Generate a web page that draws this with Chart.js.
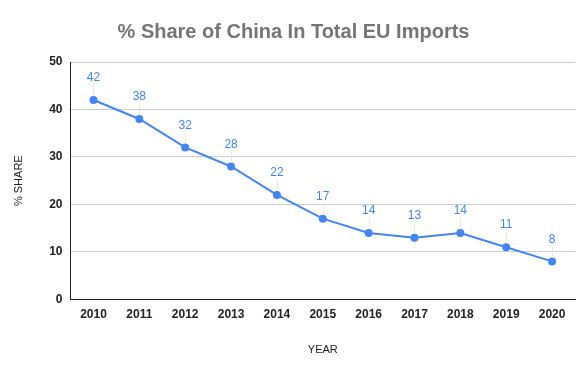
<!DOCTYPE html>
<html>
<head>
<meta charset="utf-8">
<script src="https://cdn.jsdelivr.net/npm/chart.js@4.4.1/dist/chart.umd.min.js"></script>
<style>
  html, body { margin: 0; padding: 0; background: #fff; }
  #wrap { width: 585px; height: 371px; position: relative; }
</style>
</head>
<body>
<div id="wrap"><canvas id="c"></canvas></div>
<script>
const years = ['2010', '2011', '2012', '2013', '2014', '2015', '2016', '2017', '2018', '2019', '2020'];
const share = [42, 38, 32, 28, 22, 17, 14, 13, 14, 11, 8];
const yTicks = [0, 10, 20, 30, 40, 50];

const BLUE = '#4285F4';
const FONT = 'Arial, "Liberation Sans", sans-serif';

// labels above points with thin leader lines
const pointLabels = {
  id: 'pointLabels',
  afterDatasetsDraw(chart) {
    const ctx = chart.ctx;
    const meta = chart.getDatasetMeta(0);
    ctx.save();
    ctx.font = '12px ' + FONT;
    ctx.textAlign = 'center';
    ctx.textBaseline = 'middle';
    meta.data.forEach((pt, i) => {
      ctx.strokeStyle = '#e6e6e6';
      ctx.lineWidth = 1;
      ctx.beginPath();
      ctx.moveTo(Math.round(pt.x) + 0.5, pt.y - 4);
      ctx.lineTo(Math.round(pt.x) + 0.5, pt.y - 15);
      ctx.stroke();
      ctx.fillStyle = BLUE;
      ctx.fillText(String(share[i]), pt.x, pt.y - 22);
    });
    ctx.restore();
  }
};

new Chart(document.getElementById('c'), {
  type: 'line',
  data: {
    labels: years,
    datasets: [{
      data: share,
      borderColor: BLUE,
      backgroundColor: BLUE,
      borderWidth: 2,
      pointRadius: 3,
      pointHoverRadius: 3,
      tension: 0
    }]
  },
  options: {
    responsive: true,
    maintainAspectRatio: false,
    animation: false,
    layout: { padding: { left: 12, right: 10, top: 8, bottom: 14 } },
    plugins: {
      legend: { display: false },
      tooltip: { enabled: false },
      title: {
        display: true,
        text: '% Share of China In Total EU Imports',
        color: '#757575',
        font: { family: FONT, size: 20, weight: 'bold' },
        padding: { top: 12, bottom: 18 }
      }
    },
    scales: {
      x: {
        offset: true,
        grid: { display: false, drawTicks: false },
        border: { color: '#222', width: 1 },
        ticks: {
          color: '#222',
          padding: 8,
          font: { family: FONT, size: 12, weight: 'bold' }
        },
        title: {
          display: true,
          text: 'YEAR',
          color: '#222',
          padding: { top: 14, bottom: 0 },
          font: { family: FONT, size: 11 }
        }
      },
      y: {
        min: 0,
        max: 50,
        afterBuildTicks(axis) { axis.ticks = yTicks.map(v => ({ value: v })); },
        grid: { color: '#cccccc', drawTicks: false },
        border: { color: '#222', width: 1 },
        ticks: {
          color: '#222',
          padding: 8,
          font: { family: FONT, size: 12, weight: 'bold' }
        },
        title: {
          display: true,
          text: '% SHARE',
          color: '#222',
          padding: { top: 0, bottom: 16 },
          font: { family: FONT, size: 11 }
        }
      }
    }
  },
  plugins: [pointLabels]
});
</script>
</body>
</html>
